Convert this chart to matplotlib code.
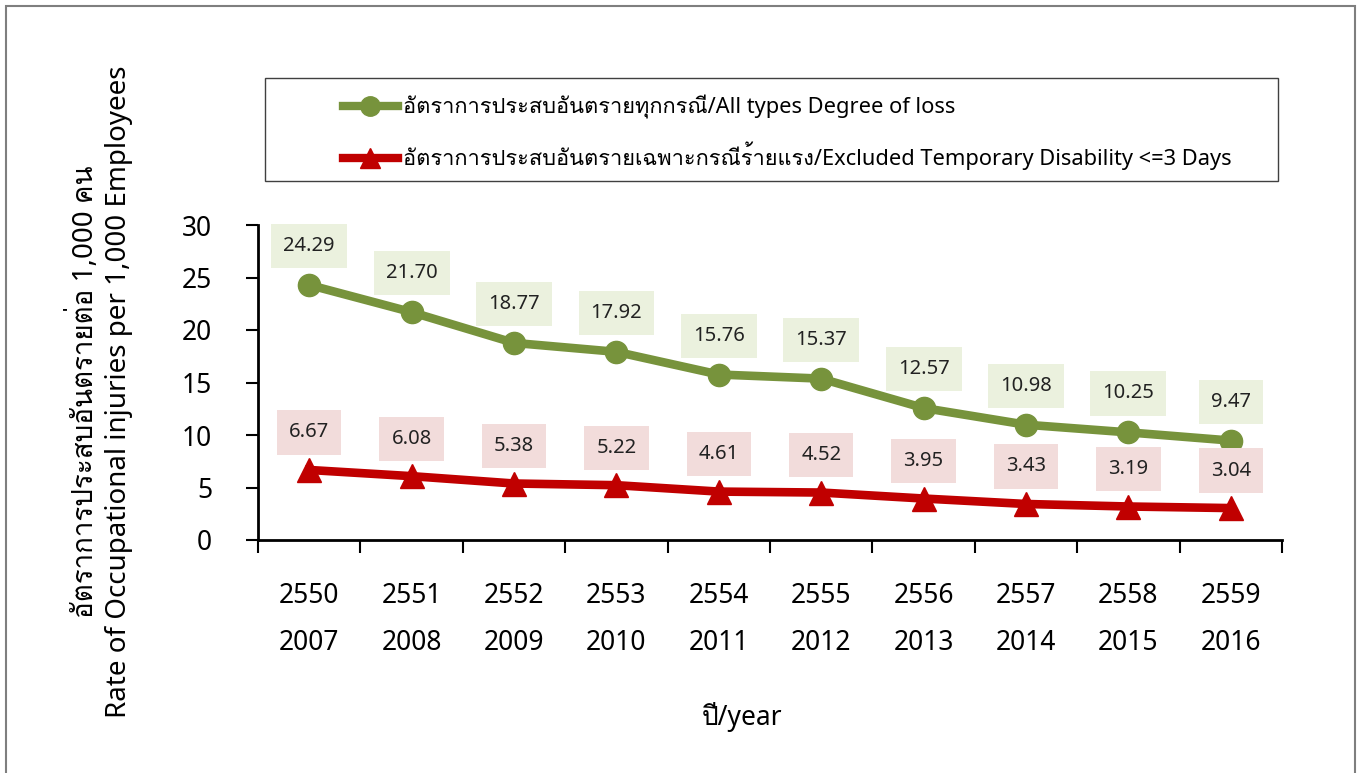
import matplotlib
matplotlib.use("Agg")
import matplotlib.pyplot as plt
from matplotlib import font_manager
from matplotlib.patches import Rectangle
from matplotlib.lines import Line2D
import numpy as np

# ---------------- data ----------------
years_be = ["2550", "2551", "2552", "2553", "2554", "2555", "2556", "2557", "2558", "2559"]
years_ce = ["2007", "2008", "2009", "2010", "2011", "2012", "2013", "2014", "2015", "2016"]
all_types = [24.29, 21.70, 18.77, 17.92, 15.76, 15.37, 12.57, 10.98, 10.25, 9.47]
excluded = [6.67, 6.08, 5.38, 5.22, 4.61, 4.52, 3.95, 3.43, 3.19, 3.04]
label_all = "อัตราการประสบอันตรายทุกกรณี/All types Degree of loss"
label_exc = "อัตราการประสบอันตรายเฉพาะกรณีร้ายแรง/Excluded Temporary Disability <=3 Days"
ylabel = "อัตราการประสบอันตรายต่อ 1,000 คน\nRate of Occupational injuries per 1,000 Employees"
xlabel = "ปี/year"

# ---------------- fonts ----------------
thai_fams = []
for f in font_manager.fontManager.ttflist:
    try:
        from matplotlib.ft2font import FT2Font
        ft = FT2Font(f.fname)
        cm = ft.get_charmap()
        if 0x0E01 in cm and 0x0E31 in cm:
            if f.name not in thai_fams:
                thai_fams.append(f.name)
    except Exception:
        pass
families = ["Noto Sans"] + thai_fams + ["DejaVu Sans"]
plt.rcParams["font.family"] = families

GREEN = "#77933C"
RED = "#C00000"
GREEN_BG = "#EBF1DE"
RED_BG = "#F2DCDB"

W, H = 1361, 773
fig = plt.figure(figsize=(W / 100, H / 100), dpi=100)
ax = fig.add_axes([258 / W, 1 - 540 / H, (1282 - 258) / W, (540 - 225) / H])

x = np.arange(len(years_be))
ax.plot(x, all_types, color=GREEN, lw=6.2, marker="o", ms=16, zorder=3, solid_capstyle="round")
ax.plot(x, excluded, color=RED, lw=6.2, marker="^", ms=17, zorder=3)

for xi, v in zip(x, all_types):
    ax.annotate(f"{v:.2f}", (xi, v), xytext=(0, 28), textcoords="offset points",
                ha="center", va="center", fontsize=14.5, color="#222222",
                bbox=dict(boxstyle="square,pad=0.6", fc=GREEN_BG, ec="none"), zorder=4)
for xi, v in zip(x, excluded):
    ax.annotate(f"{v:.2f}", (xi, v), xytext=(0, 27), textcoords="offset points",
                ha="center", va="center", fontsize=14.5, color="#222222",
                bbox=dict(boxstyle="square,pad=0.6", fc=RED_BG, ec="none"), zorder=4)

ax.set_xlim(-0.5, len(x) - 0.5)
ax.set_ylim(0, 30)
ax.set_yticks(np.arange(0, 31, 5))
ax.tick_params(axis="y", labelsize=19, length=9, width=1.5, direction="out", pad=24, colors="black")
ax.set_xticks(np.arange(-0.5, len(x), 1.0))
ax.set_xticklabels([])
ax.tick_params(axis="x", length=9, width=1.5, direction="out")
ax.set_xticks(x, minor=True)
ax.set_xticklabels([f"{a}\n{b}" for a, b in zip(years_be, years_ce)], minor=True,
                   fontsize=19, linespacing=1.93)
ax.tick_params(axis="x", which="minor", length=0, pad=30)

for s in ["top", "right"]:
    ax.spines[s].set_visible(False)
ax.spines["left"].set_linewidth(2)
ax.spines["bottom"].set_linewidth(2)

fig.text(100 / W, 1 - 392 / H, ylabel, rotation=90, ha="center", va="center",
         fontsize=20, linespacing=1.25)
fig.text(742 / W, 1 - 717 / H, xlabel, ha="center", va="center", fontsize=19)

# legend box
fig.patches.append(Rectangle((265 / W, 1 - 181 / H), (1278 - 265) / W, (181 - 78) / H,
                             transform=fig.transFigure, fill=False, ec="#404040", lw=1))
handles = [Line2D([], [], color=GREEN, lw=6, marker="o", ms=14),
           Line2D([], [], color=RED, lw=6, marker="^", ms=15)]
fig.legend(handles, [label_all, label_exc], loc="upper left",
           bbox_to_anchor=(343 / W, 1 - 95 / H), frameon=False, fontsize=15.7,
           borderpad=0, borderaxespad=0, handlelength=2.5, handletextpad=0.25,
           labelspacing=1.05)

# outer border
fig.patches.append(Rectangle((6 / W, -0.05), (1355 - 6) / W, 1 - 6 / H + 0.05,
                             transform=fig.transFigure, fill=False, ec="#7f7f7f", lw=1.5))

fig.savefig("out.png", dpi=100)
